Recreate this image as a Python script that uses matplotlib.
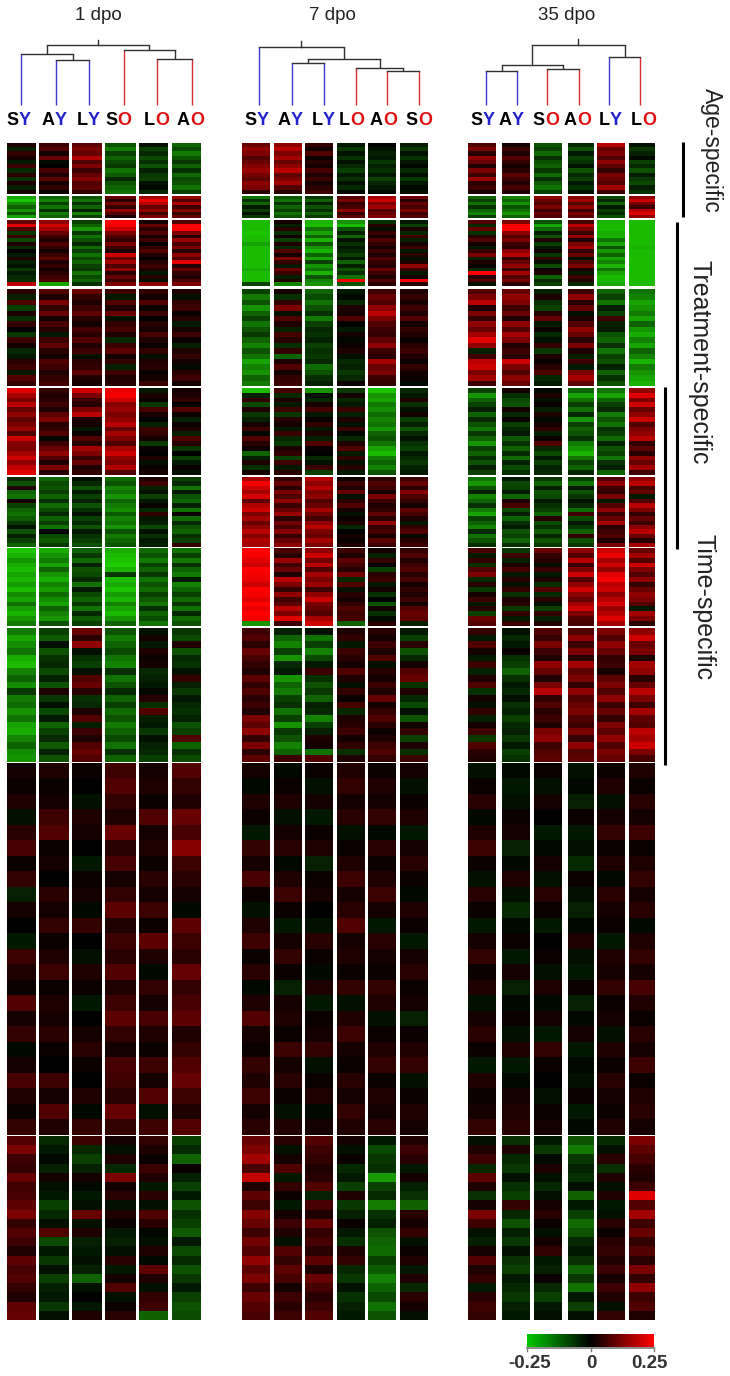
import matplotlib
matplotlib.use('Agg')
import matplotlib.pyplot as plt
import numpy as np
from matplotlib.colors import LinearSegmentedColormap

plt.rcParams['font.family'] = ['Liberation Sans', 'DejaVu Sans']

# values are read from the picture, in hundredths, top to bottom of each cell
# order of blocks: age a, age b, treat a, treat b, treat+time, time a, time b, time c, low a, low b
dpo1 = [
    [[3,-4,5,2,-3,6,-5,4,-6,3,-4,2], [6,8,2,10,-1,0,7,3,9,2,5,1], [9,12,10,17,8,12,6,10,13,8,9,5],
     [-10,-15,-8,-12,-9,-7,-14,-11,-5,-10,-12,-14], [-2,-8,-5,-9,-6,-10,-4,-7,-8,-2,-1,-5], [-12,-9,-15,-10,-7,-12,-6,-13,-9,-10,-14,-8]],
    [[-20,-24,-17,-12,-18,-10,-20], [-12,-16,-8,-14,-6,-15,-12], [-10,-14,-6,-12,-4,-16,-8],
     [10,4,12,5,14,8,3], [16,23,18,10,14,6,12], [15,8,17,6,13,5,10]],
    [[10,22,8,-7,5,-9,3,-5,0,-3,3,-4,-2,-7,-3,-5,-6,18], [14,20,16,10,6,3,8,5,2,6,9,3,5,2,4,6,8,-20],
     [-8,-12,-18,-7,-14,-10,-5,-13,-8,-14,-9,-12,-8,-7,-14,-9,-12,-6], [25,24,20,12,8,5,12,6,3,20,10,16,8,14,4,10,6,12],
     [2,10,4,8,2,6,0,5,8,3,0,4,6,3,-3,4,-2,14], [8,25,25,12,4,15,7,12,4,14,8,22,4,10,5,3,8,12]],
    [[4,-4,8,-8,3,-6,5,0,-7,6,2,-5,-3,4,6,-3,8,5], [8,3,12,5,10,2,7,4,-3,6,9,4,2,8,6,3,5,7],
     [10,5,3,6,9,4,2,7,4,8,3,6,-2,4,5,9,3,2], [6,-3,8,3,10,-2,5,7,3,-5,6,9,2,5,-4,6,3,4],
     [5,2,8,1,6,0,4,2,7,3,1,5,-2,3,4,1,2,6], [3,-2,5,6,1,4,-3,2,6,1,-4,3,5,2,-1,4,6,2]],
    [[22,16,12,18,10,14,9,12,15,8,20,13,12,16,20,14,19,22], [5,3,4,6,3,9,12,4,5,8,-1,6,10,14,8,3,12,4],
     [20,12,6,4,12,18,3,2,-3,1,8,4,16,12,6,10,3,5], [23,24,20,13,15,12,14,18,10,16,12,8,16,20,14,12,17,8],
     [-3,3,1,-7,7,2,0,-4,6,5,2,-7,1,0,3,-2,1,2], [2,3,5,0,8,1,-4,1,3,-4,8,4,-7,0,-8,-3,1,-2]],
    [[-5,-10,3,-12,-14,2,-8,-12,-14,-11,-7,-2,-10,-4,-8,-12], [-12,-9,-10,-8,-12,-6,-13,-9,-5,-12,-8,-14,0,-9,-11,-7],
     [-2,-5,-10,-3,-8,-4,-10,-6,-2,-8,-5,-10,-3,-6,-8,-10], [-13,-10,-16,-14,-18,-12,-15,-17,-11,-16,-14,-18,-10,-15,-12,-10],
     [3,6,-4,-2,-8,-3,1,-5,5,-3,-4,-9,-2,-6,-3,-4], [-8,-5,-14,-3,-10,-12,-4,-14,1,-13,-5,-10,-12,-6,-8,5]],
    [[-24,-22,-18,-21,-23,-20,-22,-19,-23,-17,-20,-14,-19,-22,-18,-15], [-21,-18,-15,-20,-12,-18,-21,-16,-19,-13,-17,-20,-12,-16,-18,-10],
     [-12,-7,-13,-4,-10,-9,-5,-14,-3,-9,-12,-7,-14,-5,-11,-8], [-21,-23,-24,-25,-22,-7,-23,-21,-24,-19,-22,-16,-20,-23,-18,-12],
     [-13,-10,-15,-8,-12,-7,-14,-10,-13,-8,-11,-14,-6,-12,-9,-14], [-14,-8,-15,-6,-12,-15,-3,-16,-12,-8,-13,-7,-14,-5,-13,-10]],
    [[-15,-20,-17,-14,-21,-23,-16,-12,-17,-7,-15,-13,-18,-14,-20,-21,-16,-12,-17,-18], [-8,-11,-2,-10,-6,-5,-9,-4,-10,3,-7,-2,-9,-3,-12,-8,-5,-11,-4,-10],
     [10,4,14,-2,-6,-8,-2,8,10,4,-6,-5,3,8,-4,6,3,8,10,8], [-10,-15,-12,-9,-14,-16,-6,-14,-10,-5,-12,-8,-13,-10,-15,-12,-9,-14,-6,-12],
     [-2,2,-3,3,1,2,-5,-4,-3,-1,4,-6,8,-4,-3,-7,-2,-4,-5,-8], [-7,-9,3,-10,-5,-6,-2,5,-4,-7,-3,-5,-6,-4,-10,-8,8,-12,-6,-9]],
    [[2,1,3,-2,4,7,1,5,-4,2,0,-3,6,3,1,8,2,5,-1,2,7,3,1,5], [3,1,2,6,8,1,2,0,4,2,5,1,3,6,1,3,2,4,1,0,6,2,8,3],
     [1,0,-2,3,2,0,-3,1,2,-1,5,0,-2,3,1,-3,0,2,4,1,0,3,-1,5], [6,8,5,3,10,4,7,2,5,9,3,6,4,8,3,6,9,5,2,7,6,4,10,5],
     [2,3,1,8,2,3,1,4,2,6,1,9,3,-1,5,2,7,3,1,6,2,8,-2,6], [8,5,3,10,7,13,6,4,2,-1,9,6,4,10,5,7,9,3,5,8,10,6,3,8]],
    [[8,12,6,5,10,6,7,9,12,5,8,6,3,9,7,8,5,3,9,10], [-5,-3,-1,-4,2,-2,-3,-8,-5,-2,8,-9,-3,-7,-2,-8,-4,-3,-7,-2],
     [6,-5,-8,-4,2,-1,-3,-2,10,-2,3,-4,-3,-2,-4,-12,-2,0,-3,3], [2,-2,3,-5,12,2,4,-2,3,1,-3,-4,-2,4,-3,2,8,-2,1,4],
     [5,3,1,6,3,-3,4,-2,8,4,-1,-2,3,-1,9,3,-2,5,6,-12], [-8,-5,-12,1,-4,-8,-3,-10,-6,-8,-11,-3,-9,-5,-10,-7,-3,-8,-10,-9]],
]
dpo7 = [
    [[10,14,12,8,10,13,15,11,9,14,12,4], [14,18,12,16,10,14,18,9,12,16,8,4], [5,2,8,1,4,2,7,3,6,2,4,6],
     [-3,-7,-2,-6,-2,-5,-8,-3,-6,-2,-5,-1], [0,-2,-4,-3,-7,-4,-6,-3,-8,-5,-3,-1], [-4,-7,-2,-6,-3,-1,-5,-2,-7,-3,-1,-2]],
    [[-14,-6,-12,-3,-8,-2,-7], [-10,-14,-6,-12,-8,-14,-10], [-7,-12,-4,-10,-6,-12,-7],
     [8,12,5,7,14,5,9], [16,20,12,16,8,10,12], [11,4,10,7,12,6,8]],
    [[-23,-23,-23,-24,-23,-23,-20,-23,-23,-23,-23,-23,-23,-21,-23,-23,-23,-8], [2,-4,4,-6,2,-8,3,-5,8,2,12,5,-3,10,6,-4,3,-16],
     [-22,-23,-14,-20,-12,-22,-10,-18,-22,-12,-20,-8,-18,-14,-22,-10,-16,-18], [-18,-23,-10,-4,-12,-2,-6,-3,-5,-8,-3,-12,-4,-10,-6,-14,24,-10],
     [-6,4,-2,6,2,8,5,2,6,3,8,5,4,10,6,3,8,4], [-3,-8,3,-5,6,-4,2,6,-3,4,-2,3,14,6,-3,2,24,4]],
    [[-8,-15,-10,-18,-12,-8,-14,-10,-7,-12,-16,-10,-14,-20,-16,-18,-12,-15], [2,-6,5,12,-2,8,3,-4,7,4,-6,5,-12,3,8,2,5,6],
     [-12,-9,-14,-10,-6,-15,-8,-5,-6,-4,-8,-6,-7,-5,-13,-10,-6,-4], [-3,-1,-5,3,2,8,0,-3,2,-1,1,3,-2,-5,-4,-7,-5,1],
     [6,10,8,14,18,12,8,6,5,9,14,6,4,16,10,12,6,5], [3,5,2,6,3,8,2,5,3,1,4,6,3,1,5,2,1,-1]],
    [[-23,-4,5,-9,3,-7,-4,2,6,-1,8,4,1,-12,-4,3,-6,2], [7,-5,3,-3,6,-7,4,2,-3,6,-5,-7,3,5,-8,6,-3,4],
     [-18,-2,-5,2,7,-3,1,5,-3,3,-4,8,1,0,-5,-2,6,-8], [-7,2,-5,-3,6,-4,3,-2,6,-1,-5,3,8,-3,5,-2,4,-3],
     [-24,-18,-20,-15,-17,-13,-16,-14,-18,-12,-10,-14,-20,-23,-15,-12,-16,-10], [-5,-3,3,-6,-2,2,-8,-4,-10,-5,-2,-6,-8,-3,-5,-7,-4,-3]],
    [[16,24,20,16,21,9,17,20,12,16,10,14,18,13,17,16], [5,10,4,12,8,14,6,10,15,4,11,7,13,5,10,14],
     [18,14,18,12,14,8,10,16,11,7,14,18,12,10,16,12], [1,6,3,10,-2,4,8,2,-2,1,3,-5,0,2,1,3],
     [4,8,6,2,12,6,3,5,9,4,14,5,7,2,9,6], [6,10,4,13,8,5,2,9,7,3,-3,5,8,-1,4,6]],
    [[25,24,22,20,25,24,23,20,25,24,22,25,23,25,24,-18], [7,4,15,6,10,3,18,12,5,14,6,9,18,12,22,6],
     [14,20,11,18,8,16,12,15,6,14,20,12,10,8,16,20], [6,3,9,7,4,11,-5,8,-2,4,2,5,8,6,7,-12],
     [2,-4,5,1,-8,4,6,-3,2,-6,0,-10,2,-6,-1,4], [5,8,3,6,8,4,7,2,5,3,6,2,8,10,9,-4]],
    [[6,8,4,10,7,5,3,9,5,8,4,6,3,12,9,14,5,12,4,9], [-4,-12,-16,-8,-18,-5,-3,-18,-12,-15,-8,-6,-14,-8,-18,-7,-10,-16,-12,6],
     [-2,-14,-8,-16,-9,-3,6,-6,-10,-7,-12,-4,-5,-16,-8,-4,3,2,-14,8], [3,5,-3,6,4,2,8,3,-2,5,1,7,-5,3,4,6,2,5,-6,3],
     [4,2,6,3,8,-2,4,2,6,3,10,2,5,8,4,1,3,6,8,5], [-3,-8,4,-10,-5,2,8,10,-6,3,-5,-9,-2,-10,2,5,-8,3,-6,6]],
    [[2,-1,3,1,-3,5,2,7,1,-2,3,6,1,4,-1,3,8,2,1,5,3,6,2,4], [-1,1,3,-2,2,4,-1,3,6,1,-3,2,5,1,-4,2,3,1,6,2,4,1,-2,3],
     [1,-2,2,-3,1,3,-4,1,2,0,-2,4,1,-1,3,-3,1,2,5,-2,1,3,-1,2], [3,5,2,4,-2,1,3,6,2,4,8,2,3,1,5,-2,3,6,2,1,4,2,5,3],
     [1,3,2,5,-1,4,1,3,6,2,-3,4,2,1,5,3,-2,1,3,5,1,3,2,4], [2,-2,1,3,-3,2,4,1,-1,3,1,-3,2,4,1,2,-4,1,3,5,-2,1,3,2]],
    [[10,12,16,7,19,3,9,6,13,10,6,11,8,14,9,12,6,10,8,7], [4,-2,2,8,-3,5,1,-3,2,6,3,-2,8,5,9,7,2,6,4,6],
     [8,6,5,3,4,8,-4,7,3,10,5,7,4,9,3,10,7,4,6,8], [2,-2,1,-5,-3,-8,3,-7,-4,1,-3,-6,3,5,-5,-7,-2,-6,-4,-3],
     [-3,-9,-7,-6,-19,-8,-5,-15,-6,-4,-10,-12,-13,-8,-11,-16,-12,-9,-14,-10], [3,6,4,-3,2,-4,-6,-12,4,2,5,-2,1,3,-3,3,-5,4,2,-2]],
]
dpo35 = [
    [[8,12,4,14,10,3,12,6,15,4,6,2], [2,6,3,8,5,2,4,9,6,3,7,3], [-10,-8,-13,-6,-10,-12,-7,-13,-6,-11,-14,-8],
     [-5,-10,-3,-8,-6,-2,-10,-5,-8,-3,-6,-2], [18,10,12,8,14,9,5,12,10,8,16,6], [-2,-7,-4,-1,-8,-5,-10,-3,-7,-9,-4,-6]],
    [[-12,-8,-14,-6,-12,-16,-8], [-16,-12,-18,-10,-14,-18,-12], [14,10,8,12,6,10,8],
     [13,16,8,14,6,12,9], [-9,-5,-12,-3,-8,-5,-10], [14,20,12,6,18,22,14]],
    [[8,-5,10,-6,4,8,2,-3,5,12,-4,3,1,-5,24,4,8,-2], [12,25,25,14,8,12,6,4,14,18,5,10,14,6,16,8,12,4],
     [-10,-20,-13,-4,-10,3,-8,-3,2,-7,5,-2,-9,1,3,-12,-5,-8], [7,18,12,6,14,3,12,16,5,10,-2,8,12,3,-3,6,3,-5],
     [-22,-23,-23,-21,-22,-14,-20,-10,-18,-12,-20,-16,-22,-14,-20,-23,-22,-21], [-23,-23,-23,-23,-23,-23,-23,-22,-23,-23,-23,-23,-23,-23,-23,-23,-23,-23]],
    [[8,12,18,3,12,5,14,10,16,22,14,-4,6,18,20,12,16,6], [10,14,12,6,10,3,14,8,16,12,3,6,4,20,12,8,14,10],
     [-4,3,-6,-8,4,10,-3,1,-5,-2,5,-7,3,1,4,8,-5,-3], [6,14,4,10,-2,3,8,14,10,4,12,3,-4,6,-3,12,16,9],
     [-12,-8,-14,-4,-8,6,-4,-3,-10,-12,-6,-14,-8,-10,-4,-12,-6,-10], [-14,-16,-20,-18,-15,-20,-12,-18,-21,-16,-20,-12,-16,-22,-15,-18,-20,-22]],
    [[-8,-18,-12,-8,-4,-12,-5,-10,-14,-7,-12,-18,-8,-12,-6,-10,-4,-8], [2,-6,-9,-10,2,-5,1,-8,-5,-3,-11,-6,-12,-5,-13,-4,-9,-6],
     [-1,3,-2,1,-4,3,-1,2,5,-4,1,8,-5,-9,-3,-8,-4,-5], [-12,-20,-14,-8,-14,-5,-18,-8,-12,-10,-6,-15,-18,-22,-14,-8,-12,-5],
     [-14,-20,-12,-8,-5,-15,-10,-14,-6,-8,-13,-4,-10,-8,-14,-6,-4,-12], [14,22,12,20,10,14,20,8,12,14,18,5,9,4,14,10,16,6]],
    [[-14,-18,-10,-4,-16,-12,-6,-15,-20,-8,-12,-16,-5,-14,-10,-6], [-3,-9,-8,-3,-12,3,7,-9,-4,-12,-6,-3,-10,-8,-12,-6],
     [-7,-12,-4,-10,-9,-3,-6,-8,-12,4,-9,-6,-11,-5,-10,-7], [-8,-14,-3,-10,-7,-2,-5,-13,6,-9,-3,-7,-12,5,-10,-7],
     [8,14,6,5,12,-3,8,14,6,10,16,4,6,8,3,12], [14,18,7,10,-3,8,18,12,5,10,6,14,18,10,4,16]],
    [[7,-3,5,-6,8,12,-5,4,-7,2,6,-3,4,-8,10,8], [-7,6,-4,3,7,-3,4,-2,5,-6,3,4,-7,5,-3,6],
     [10,5,4,-2,6,-3,3,-6,8,-5,4,-2,-8,5,-4,3], [14,8,18,6,12,20,8,14,20,14,10,16,20,12,8,7],
     [20,23,16,20,14,22,24,18,20,14,18,21,15,18,22,16], [10,16,8,20,12,8,14,5,10,14,12,8,-3,16,12,4]],
    [[5,-3,8,2,-3,6,-4,3,8,-6,2,-2,5,-4,2,6,-7,8,4,3], [-2,-5,-3,1,-6,-8,-12,-6,-3,-5,-2,-6,-4,-8,-5,-4,-7,-3,-8,-6],
     [8,5,12,6,3,14,10,3,12,18,5,8,4,6,3,12,14,6,8,9], [8,14,6,12,4,16,9,12,5,14,8,10,12,8,6,12,5,14,8,9],
     [12,8,14,10,5,6,2,9,12,8,14,6,10,5,12,9,14,8,12,10], [14,20,10,12,3,16,14,4,10,18,12,6,16,9,8,18,16,20,12,7]],
    [[-2,1,4,-1,3,6,1,-2,4,1,-3,2,5,1,3,-2,2,4,1,-3,3,1,2,5], [-1,-3,-2,1,2,-4,-1,3,-2,-5,-1,1,-3,2,-4,-1,1,-2,3,-3,-1,2,3,4],
     [1,-2,2,0,-3,-1,2,-2,4,1,-3,0,1,-2,3,-1,2,-3,5,1,0,-2,1,2], [-2,-1,-4,1,-3,-2,-5,1,-2,-4,-1,3,-2,-3,1,-4,-1,2,-3,-1,-2,1,-3,-1],
     [1,3,-2,2,5,1,3,-1,4,2,1,-3,3,2,5,1,2,-2,3,1,4,2,1,3], [3,1,4,2,6,1,3,5,2,4,-1,3,5,2,7,3,1,4,2,6,1,3,4,2]],
    [[-2,3,6,-5,9,3,-6,2,12,6,-2,-4,2,8,3,5,-3,4,6,5], [-6,3,-5,-7,-2,-6,-8,5,-5,-10,-4,-7,-2,-6,-8,-3,-5,-7,-4,-3],
     [-3,-7,-1,3,-2,-5,-2,2,4,1,-2,2,5,-3,-4,1,-5,-8,-3,-2], [-10,-15,-7,-4,-6,-2,-12,-3,-8,-13,-10,-5,-3,-6,-12,-7,-14,-3,-8,-2],
     [-5,-2,4,-6,3,-2,3,-3,-2,4,1,4,5,3,6,2,6,3,-2,5], [12,9,7,4,3,6,22,8,16,6,10,5,8,4,12,5,14,6,8,3]],
]
panels = [dpo1, dpo7, dpo35]
titles = ['1 dpo', '7 dpo', '35 dpo']
names = [['SY', 'AY', 'LY', 'SO', 'LO', 'AO'], ['SY', 'AY', 'LY', 'LO', 'AO', 'SO'], ['SY', 'AY', 'SO', 'AO', 'LY', 'LO']]

# trees: leaf index or (left, right, height)
tree1 = ((0, (1, 2, 60), 54), (3, (4, 5, 59), 50), 45)
tree7 = (0, ((1, 2, 63), (3, (4, 5, 71), 68), 59), 47)
tree35 = (((0, 1, 71), (2, 3, 69), 65), (4, 5, 57), 45)
trees = [tree1, tree7, tree35]

# layout in pixels
W, H = 730, 1376
block_y = [(143,194), (196,218), (220,286), (289,386), (388,475), (477,547), (548,626), (628,762), (763,1135), (1136,1320)]
col_x = [[(7,36), (39,69), (72,102), (105,136), (139,168), (172,201)],
         [(242,270), (274,302), (305,333), (337,365), (368,396), (400,428)],
         [(468,496), (502,530), (534,562), (568,594), (597,625), (629,655)]]
leaf_x = [[21,56,89,124,157,192], [259,292,324,356,387,419], [486,517,547,579,609,640]]
label_x = [[18.5,55,88,117.5,155,190], [257,291,323,350,383,418], [483,512,545,577,610,642]]
title_x = [98, 332, 567]
stem_top = [40, 41, 39]

cmap = LinearSegmentedColormap.from_list('gbr', ['#1ecc00', '#000000', '#ff0000'])

fig = plt.figure(figsize=(W/100, H/100), dpi=100)
ax = fig.add_axes([0, 0, 1, 1])

def leaf_colour(name):
    return '#3a3ad0' if name[1] == 'Y' else '#d83030'

def draw_tree(node, xs, labels):
    # returns x of node and its height
    if isinstance(node, int):
        return xs[node], 105, leaf_colour(labels[node])
    xa, ya, ca = draw_tree(node[0], xs, labels)
    xb, yb, cb = draw_tree(node[1], xs, labels)
    y = node[2]
    ax.plot([xa, xa], [ya, y], color=ca, lw=1.0, solid_capstyle='butt')
    ax.plot([xb, xb], [yb, y], color=cb, lw=1.0, solid_capstyle='butt')
    ax.plot([xa, xb], [y, y], color='#303030', lw=1.0, solid_capstyle='projecting')
    return (xa + xb) / 2, y, '#303030'

for p, panel in enumerate(panels):
    ax.text(title_x[p], 15, titles[p], ha='center', va='center', fontsize=13.5, color='#222222')
    x, y, c = draw_tree(trees[p], leaf_x[p], names[p])
    ax.plot([x, x], [y, stem_top[p]], color='#303030', lw=1.0)
    for c, name in enumerate(names[p]):
        ax.text(label_x[p][c], 125, name[0], ha='right', va='baseline', fontsize=13, fontweight='bold', color='black')
        ax.text(label_x[p][c], 125, name[1], ha='left', va='baseline', fontsize=13, fontweight='bold',
                color='#2222cc' if name[1] == 'Y' else '#e01010')
    for b, block in enumerate(panel):
        y0, y1 = block_y[b]
        for c, vals in enumerate(block):
            x0, x1 = col_x[p][c]
            cell = np.array(vals, dtype=float).reshape(-1, 1) / 100
            ax.imshow(cell, cmap=cmap, vmin=-0.25, vmax=0.25, extent=(x0, x1, y1, y0), aspect='auto', interpolation='nearest')

# side bars and labels
ax.plot([683, 683], [142, 217], color='black', lw=2.2, solid_capstyle='butt')
ax.plot([677, 677], [222, 549], color='black', lw=2.2, solid_capstyle='butt')
ax.plot([665, 665], [387, 765], color='black', lw=2.2, solid_capstyle='butt')
ax.text(711, 150, 'Age-specific', rotation=270, ha='center', va='center', fontsize=16.5, color='#222222')
ax.text(700, 362, 'Treatment-specific', rotation=270, ha='center', va='center', fontsize=18, color='#222222')
ax.text(703, 607, 'Time-specific', rotation=270, ha='center', va='center', fontsize=18, color='#222222')

# colour bar
bar_vals = np.linspace(-0.25, 0.25, 256).reshape(1, -1)
ax.imshow(bar_vals, cmap=LinearSegmentedColormap.from_list('bar', ['#00c800', '#000000', '#ff0000']),
          vmin=-0.25, vmax=0.25, extent=(527, 654, 1347, 1334), aspect='auto')
ax.plot([527, 654], [1348, 1348], color='#777777', lw=1.2)
for tick_x, tick in zip([527, 590.5, 654], ['-0.25', '0', '0.25']):
    ax.plot([tick_x, tick_x], [1348, 1351], color='#777777', lw=1.0)
ax.text(529.5, 1364, '-0.25', ha='center', va='center', fontsize=13.5, fontweight='bold', color='#333333')
ax.text(591, 1364, '0', ha='center', va='center', fontsize=13.5, fontweight='bold', color='#333333')
ax.text(649, 1364, '0.25', ha='center', va='center', fontsize=13.5, fontweight='bold', color='#333333')

ax.set_xlim(0, W)
ax.set_ylim(H, 0)
ax.axis('off')
fig.savefig('out.png', dpi=100, facecolor='white')
